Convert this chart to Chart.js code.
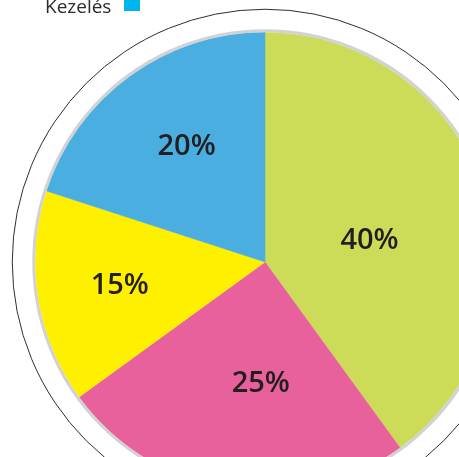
<!DOCTYPE html>
<html>
<head>
<meta charset="utf-8">
<script src="https://cdn.jsdelivr.net/npm/chart.js@4"></script>
<style>
  html, body { margin: 0; padding: 0; background: #fff; overflow: hidden; }
  #wrap { position: relative; width: 459px; height: 457px; overflow: hidden; }
  #pie { position: absolute; left: 0; top: 0; }
</style>
</head>
<body>
<div id="wrap"><canvas id="pie" width="530" height="524"></canvas></div>
<script>
// -----------------------
// Data
// -----------------------
const categories = ['A', 'B', 'C', 'D'];
const shares = [40, 25, 15, 20];              // percent, clockwise from 12 o'clock
const shareLabels = ['40%', '25%', '15%', '20%'];
const legendLabel = 'Kezelés';

const sliceColors = ['#cddc58', '#e8619c', '#fff000', '#4aaee0'];

// label placement: radius as fraction of pie radius, angle shift in degrees
const labelPlace = [
  { r: 0.465, shift: 6 },
  { r: 0.526, shift: -7 },
  { r: 0.64, shift: 0 },
  { r: 0.61, shift: 2 }
];

// -----------------------
// Ring, outer circle, labels, legend
// -----------------------
const decor = {
  id: 'decor',
  afterDatasetsDraw(chart) {
    const ctx = chart.ctx;
    const arcs = chart.getDatasetMeta(0).data;
    const { x, y, outerRadius } = arcs[0];

    ctx.save();
    // gray rim round the pie
    ctx.beginPath();
    ctx.arc(x, y, outerRadius + 1.5, 0, Math.PI * 2);
    ctx.lineWidth = 3;
    ctx.strokeStyle = '#d2d2d6';
    ctx.stroke();

    // thin outer circle
    ctx.beginPath();
    ctx.arc(x, y, outerRadius + 23, 0, Math.PI * 2);
    ctx.lineWidth = 1;
    ctx.strokeStyle = '#2e2e2e';
    ctx.stroke();

    // percentage labels
    ctx.font = '600 29px "Open Sans", sans-serif';
    ctx.fillStyle = '#231f20';
    ctx.textAlign = 'center';
    ctx.textBaseline = 'middle';
    arcs.forEach((arc, i) => {
      const p = labelPlace[i];
      const a = (arc.startAngle + arc.endAngle) / 2 + p.shift * Math.PI / 180;
      const r = p.r * arc.outerRadius;
      ctx.fillText(shareLabels[i], x + r * Math.cos(a), y + r * Math.sin(a) + 1);
    });

    // legend entry (cut by the top edge)
    ctx.font = '19px "Open Sans", sans-serif';
    ctx.fillStyle = '#2b2b2b';
    ctx.textAlign = 'left';
    ctx.textBaseline = 'alphabetic';
    ctx.fillText(legendLabel, 45, 13);
    ctx.fillStyle = '#00b4ee';
    ctx.fillRect(124, -4, 16, 15);
    ctx.restore();
  }
};

new Chart(document.getElementById('pie').getContext('2d'), {
  type: 'pie',
  data: {
    labels: categories,
    datasets: [{
      data: shares,
      backgroundColor: sliceColors,
      borderColor: sliceColors,
      borderWidth: 0.5
    }]
  },
  options: {
    responsive: false,
    animation: false,
    layout: { padding: 32 },
    plugins: {
      legend: { display: false },
      tooltip: { enabled: false }
    }
  },
  plugins: [decor]
});
</script>
</body>
</html>
